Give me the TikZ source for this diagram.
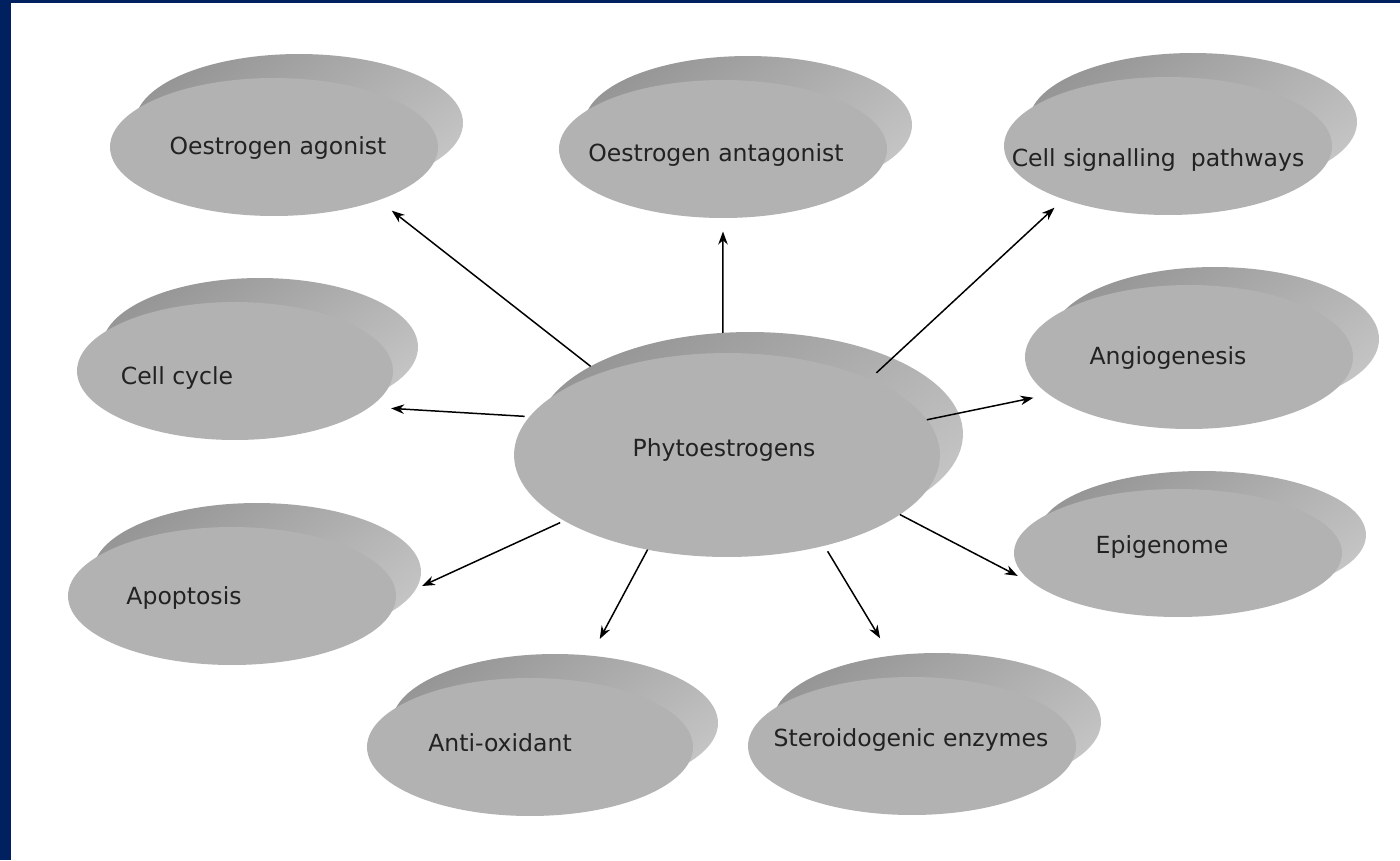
\documentclass[tikz,border=0pt]{standalone}
\usepackage{fontspec}
\setsansfont{DejaVu Sans}
\usetikzlibrary{arrows.meta,shapes.geometric}
\definecolor{framenavy}{HTML}{002060}
\definecolor{discgray}{HTML}{B2B2B2}
\definecolor{rimdark}{HTML}{969696}
\definecolor{rimlight}{HTML}{C4C4C4}
\definecolor{labelink}{HTML}{222222}

\begin{document}
\begin{tikzpicture}[
    x=0.02cm, y=-0.02cm,
    disc/.style={ellipse, draw=none, inner sep=0pt, outer sep=0pt,
        minimum width=6.56cm, minimum height=2.76cm},
    discfront/.style={disc, fill=discgray},
    discrim/.style={disc, top color=rimdark, bottom color=rimlight,
        shading angle=35},
    hubsize/.style={minimum width=8.52cm, minimum height=4.08cm},
    disclabel/.style={font=\sffamily\fontsize{13.4}{16}\selectfont,
        text=labelink, inner sep=0pt},
    link/.style={-{Stealth[length=2.6mm, width=1.9mm]}, line width=0.85pt},
]

% =====================================================
% Page and navy frame
% =====================================================
\fill[white] (0,0) rectangle (1400,860);
\useasboundingbox (0,0) rectangle (1400,860);
\fill[framenavy] (0,0) rectangle (11,860);
\fill[framenavy] (0,0) rectangle (1400,3);

% =====================================================
% Central disc
% =====================================================
\node[discrim, hubsize] (hubrim) at (750,434) {};
\node[discfront, hubsize] (hub) at (727,455) {};
\node[disclabel] (hublbl) at (724,450) {Phytoestrogens};

% =====================================================
% Top row
% =====================================================
\node[discrim] (agonrim) at (299,123) {};
\node[discfront] (agon) at (274,147) {};
\node[disclabel] (agonlbl) at (278,148) {Oestrogen agonist};

\node[discrim] (antagrim) at (748,125) {};
\node[discfront] (antag) at (723,149) {};
\node[disclabel] (antaglbl) at (716,155) {Oestrogen antagonist};

\node[discrim] (signalrim) at (1193,122) {};
\node[discfront] (signal) at (1168,146) {};
\node[disclabel] (signallbl) at (1158,160) {Cell signalling\ \ pathways};

% =====================================================
% Left column
% =====================================================
\node[discrim, minimum width=6.32cm] (cyclerim) at (260,347) {};
\node[discfront, minimum width=6.32cm] (cycle) at (235,371) {};
\node[disclabel] (cyclelbl) at (177,378) {Cell cycle};

\node[discrim] (apoprim) at (257,572) {};
\node[discfront] (apop) at (232,596) {};
\node[disclabel] (apoplbl) at (184,598) {Apoptosis};

% =====================================================
% Right column
% =====================================================
\node[discrim, minimum height=2.88cm] (angiorim) at (1215,339) {};
\node[discfront, minimum height=2.88cm] (angio) at (1189,357) {};
\node[disclabel] (angiolbl) at (1168,358) {Angiogenesis};

\node[discrim, minimum height=2.56cm] (epirim) at (1202,535) {};
\node[discfront, minimum height=2.56cm] (epi) at (1178,553) {};
\node[disclabel] (epilbl) at (1162,547) {Epigenome};

% =====================================================
% Bottom row
% =====================================================
\node[discrim, minimum width=6.52cm] (antioxrim) at (555,723) {};
\node[discfront, minimum width=6.52cm] (antiox) at (530,747) {};
\node[disclabel] (antioxlbl) at (500,743) {Anti-oxidant};

\node[discrim] (steroidrim) at (937,722) {};
\node[discfront] (steroid) at (912,746) {};
\node[disclabel] (steroidlbl) at (911,740) {Steroidogenic enzymes};

% =====================================================
% Arrows out of the central disc
% =====================================================
\draw[link, shorten >=0.34cm] (hubrim.157.6) -- (agon.-27.5);
\draw[link, shorten >=0.27cm] (hubrim.105) -- (antag.-90);
\draw[link, shorten <=0.19cm, shorten >=0.25cm] (hub.28.9) -- (signal.207.5);
\draw[link, shorten <=0.1cm, shorten >=0.43cm] (hub.169.7) -- (cycle.-15.4);
\draw[link, shorten >=0.32cm] (hub.10.4) -- (angio.195.6);
\draw[link, shorten >=0.5cm] (hub.-19) -- (epi.194);
\draw[link, shorten <=0.13cm, shorten >=0.41cm] (hub.-43.9) -- (steroidrim.125.5);
\draw[link, shorten >=0.38cm] (hub.230.6) -- (antioxrim.62.3);
\draw[link, shorten <=0.09cm, shorten >=0.13cm] (hub.202.3) -- (apoprim.-6.2);

\end{tikzpicture}
\end{document}
